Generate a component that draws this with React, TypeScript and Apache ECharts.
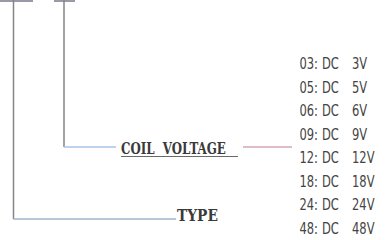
import React, { useEffect, useRef } from "react";
import * as echarts from "echarts";

const codes = ["03", "05", "06", "09", "12", "18", "24", "48"];
const voltages = ["3V", "5V", "6V", "9V", "12V", "18V", "24V", "48V"];
const labelCoil = "COIL  VOLTAGE";
const labelType = "TYPE";

export default function App() {
  const ref = useRef<HTMLDivElement>(null);
  useEffect(() => {
    if (!ref.current) return;
    const chart = echarts.init(ref.current, undefined, { renderer: "svg" });
    const rowY0 = 63.5;
    const rowGap = 23.5;
    const listFont = { fontFamily: "DejaVu Sans", fontSize: 16, fill: "#444444" };
    const listEls: any[] = [];
    codes.forEach((c, i) => {
      const y = rowY0 + i * rowGap;
      listEls.push({
        type: "text",
        x: 318,
        y,
        scaleX: 0.72,
        style: { ...listFont, text: c + ":", textAlign: "right", textVerticalAlign: "middle" },
      });
      listEls.push({
        type: "text",
        x: 322,
        y,
        scaleX: 0.72,
        style: { ...listFont, text: "DC", textAlign: "left", textVerticalAlign: "middle" },
      });
      listEls.push({
        type: "text",
        x: 352,
        y,
        scaleX: 0.72,
        style: { ...listFont, text: voltages[i], textAlign: "left", textVerticalAlign: "middle" },
      });
    });
    chart.setOption({
      animation: false,
      graphic: [
        { type: "line", shape: { x1: 0, y1: 1, x2: 33, y2: 1 }, style: { stroke: "#9a9aa6", lineWidth: 2 } },
        { type: "line", shape: { x1: 54, y1: 1, x2: 75, y2: 1 }, style: { stroke: "#9a9aa6", lineWidth: 2 } },
        { type: "line", shape: { x1: 13.5, y1: 0, x2: 13.5, y2: 219 }, style: { stroke: "#858585", lineWidth: 1.5 } },
        { type: "line", shape: { x1: 64, y1: 0, x2: 64, y2: 147 }, style: { stroke: "#858585", lineWidth: 1.5 } },
        { type: "line", shape: { x1: 64, y1: 147, x2: 116, y2: 147 }, style: { stroke: "#a8c4e2", lineWidth: 1.5 } },
        { type: "line", shape: { x1: 13, y1: 219, x2: 176, y2: 219 }, style: { stroke: "#9fb4cc", lineWidth: 1.5 } },
        { type: "line", shape: { x1: 243, y1: 147, x2: 292, y2: 147 }, style: { stroke: "#d2a9b2", lineWidth: 1.5 } },
        {
          type: "text",
          x: 121,
          y: 148,
          scaleX: 0.74,
          style: {
            text: labelCoil,
            fontFamily: "DejaVu Serif",
            fontWeight: "bold",
            fontSize: 16,
            fill: "#3a3a3a",
            textAlign: "left",
            textVerticalAlign: "middle",
          },
        },
        { type: "line", shape: { x1: 121, y1: 156.5, x2: 238, y2: 156.5 }, style: { stroke: "#6a6a6a", lineWidth: 1 } },
        {
          type: "text",
          x: 177,
          y: 216,
          scaleX: 0.86,
          style: {
            text: labelType,
            fontFamily: "DejaVu Serif",
            fontWeight: "bold",
            fontSize: 16,
            fill: "#3a3a3a",
            textAlign: "left",
            textVerticalAlign: "middle",
          },
        },
        ...listEls,
      ],
    });
    return () => chart.dispose();
  }, []);
  return (
    <div
      ref={ref}
      style={{ position: "fixed", left: 0, top: 0, width: 389, height: 240, background: "#fff" }}
    />
  );
}
